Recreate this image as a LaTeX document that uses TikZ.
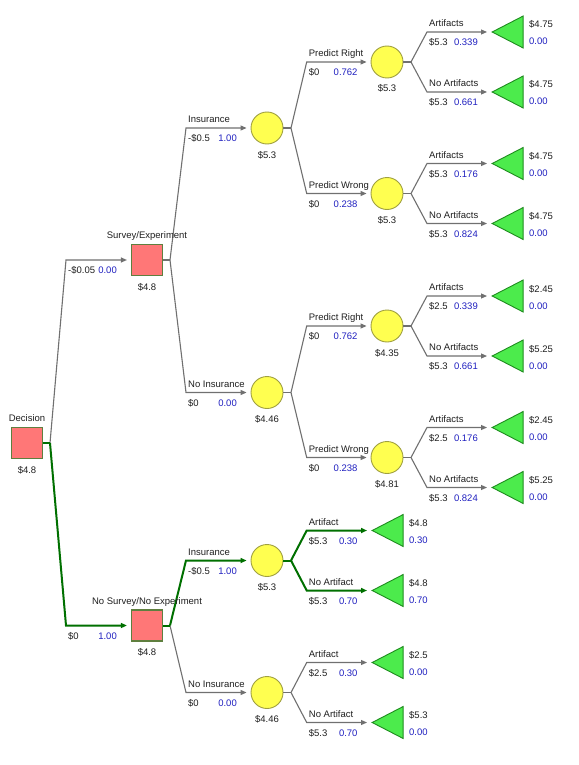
\documentclass[tikz,border=0pt]{standalone}
\usepackage{fontspec}
\setmainfont{Liberation Sans}
\usetikzlibrary{shapes.geometric,arrows.meta,calc}
\definecolor{sqfill}{HTML}{FF7777}
\definecolor{sqline}{HTML}{5F7F3F}
\definecolor{cfill}{HTML}{FFFF50}
\definecolor{cline}{HTML}{A0A040}
\definecolor{tfill}{HTML}{4CEB4C}
\definecolor{tline}{HTML}{1E8C1E}
\definecolor{gline}{HTML}{707070}
\definecolor{hgreen}{HTML}{007000}
\definecolor{pblue}{HTML}{2020C0}
\definecolor{txt}{HTML}{202020}
\tikzset{
 dec/.style={rectangle, draw=sqline, fill=sqfill, line width=1.2pt, minimum size=31pt, inner sep=0pt},
 chance/.style={circle, draw=cline, fill=cfill, line width=0.9pt, minimum size=32pt, inner sep=0pt},
 term/.style={isosceles triangle, shape border rotate=180, isosceles triangle stretches, minimum width=32pt, minimum height=31pt, inner sep=0pt, draw=tline, fill=tfill, line width=0.9pt, anchor=apex},
 br/.style={draw=gline, line width=1.1pt},
 stub/.style={draw=gline, line width=1.8pt},
 hb/.style={draw=hgreen, line width=2pt},
 arr/.style={-{Triangle[length=6pt,width=5pt]}, shorten >=4pt},
 lab/.style={font=\fontsize{9.5}{11}\selectfont, text=txt, inner sep=0pt},
}
\newcommand\BrLab[4]{%
 \node[lab,anchor=base west] (#1n) at ($(#1)+(2,-5.5)$) {#2};
 \node[lab,anchor=base west] (#1c) at ($(#1)+(2,13.5)$) {#3};
 \node[lab,text=pblue,anchor=base east] (#1p) at ($(#1)+(51,13.5)$) {#4};}
\newcommand\LeafT[3]{%
 \node[lab,anchor=base west] (#1v) at ($(#1.apex)+(38,-4)$) {#2};
 \node[lab,text=pblue,anchor=base west] (#1q) at ($(#1.apex)+(38,13)$) {#3};}
\newcommand\ValLab[2]{%
 \node[lab,anchor=base] (#1l) at ($(#1)+(0,30)$) {#2};}
\begin{document}
\begin{tikzpicture}[x=1pt,y=-1pt]
\fill[white] (0,0) rectangle (578,765);
\useasboundingbox (0,0) rectangle (578,765);

% ---------- stubs and corners ----------
\coordinate (ds) at (50,443);
\coordinate (ss) at (170,260);
\coordinate (ns) at (170,625.5);
\coordinate (s1) at (291,128);
\coordinate (s2) at (291,392.5);
\coordinate (s3) at (291,560.5);
\coordinate (s4) at (291,692.5);
\coordinate (s11) at (411,62);
\coordinate (s12) at (411,193.5);
\coordinate (s21) at (411,326);
\coordinate (s22) at (411,457.5);

\coordinate (kS) at (66,260);
\coordinate (kN) at (66,625.5);
\coordinate (kI1) at (186,128);
\coordinate (kN1) at (186,392.5);
\coordinate (kI2) at (186,560.5);
\coordinate (kN2) at (186,692.5);
\coordinate (kR1) at (306.7,62);
\coordinate (kW1) at (306.7,193.5);
\coordinate (kR2) at (306.7,326);
\coordinate (kW2) at (306.7,457.5);
\coordinate (k111) at (427,32);
\coordinate (k112) at (427,92);
\coordinate (k121) at (427,163.5);
\coordinate (k122) at (427,223.5);
\coordinate (k211) at (427,296);
\coordinate (k212) at (427,356);
\coordinate (k221) at (427,427.5);
\coordinate (k222) at (427,487.5);
\coordinate (k31) at (306.7,530.5);
\coordinate (k32) at (306.7,590.5);
\coordinate (k41) at (306.7,662.5);
\coordinate (k42) at (306.7,722.5);

% ---------- nodes ----------
\node[dec] (D) at (27,443) {};
\node[dec] (S) at (147,260) {};
\node[dec] (N) at (147,625.5) {};
\node[chance] (C1) at (267,128) {};
\node[chance] (C2) at (267,392.5) {};
\node[chance] (C3) at (267,560.5) {};
\node[chance] (C4) at (267,692.5) {};
\node[chance] (C11) at (387,62) {};
\node[chance] (C12) at (387,193.5) {};
\node[chance] (C21) at (387,326) {};
\node[chance] (C22) at (387,457.5) {};
\node[term] (T111) at (491,32) {};
\node[term] (T112) at (491,92) {};
\node[term] (T121) at (491,163.5) {};
\node[term] (T122) at (491,223.5) {};
\node[term] (T211) at (491,296) {};
\node[term] (T212) at (491,356) {};
\node[term] (T221) at (491,427.5) {};
\node[term] (T222) at (491,487.5) {};
\node[term] (T31) at (371,530.5) {};
\node[term] (T32) at (371,590.5) {};
\node[term] (T41) at (371,662.5) {};
\node[term] (T42) at (371,722.5) {};

% ---------- gray connectors ----------
\draw[br,arr] (ds) -- (kS) -- (S);
\draw[br,arr] (ss) -- (kI1) -- (C1);
\draw[br,arr] (ss) -- (kN1) -- (C2);
\draw[br,arr] (s1) -- (kR1) -- (C11);
\draw[br,arr] (s1) -- (kW1) -- (C12);
\draw[br,arr] (s2) -- (kR2) -- (C21);
\draw[br,arr] (s2) -- (kW2) -- (C22);
\draw[br,arr] (s11) -- (k111) -- (T111);
\draw[br,arr] (s11) -- (k112) -- (T112);
\draw[br,arr] (s12) -- (k121) -- (T121);
\draw[br,arr] (s12) -- (k122) -- (T122);
\draw[br,arr] (s21) -- (k211) -- (T211);
\draw[br,arr] (s21) -- (k212) -- (T212);
\draw[br,arr] (s22) -- (k221) -- (T221);
\draw[br,arr] (s22) -- (k222) -- (T222);
\draw[br,arr] (ns) -- (kN2) -- (C4);
\draw[br,arr] (s4) -- (k41) -- (T41);
\draw[br,arr] (s4) -- (k42) -- (T42);
\draw[stub] (S.east) -- (ss);
\draw[stub] (C1.east) -- (s1);
\draw[stub] (C2.east) -- (s2);
\draw[stub] (C11.east) -- (s11);
\draw[stub] (C12.east) -- (s12);
\draw[stub] (C21.east) -- (s21);
\draw[stub] (C22.east) -- (s22);
\draw[stub] (C4.east) -- (s4);

% ---------- green (optimal) connectors ----------
\draw[hb] (D.east) -- (ds);
\draw[hb,arr] (ds) -- (kN) -- (N);
\draw[hb] (N.east) -- (ns);
\draw[hb,arr] (ns) -- (kI2) -- (C3);
\draw[hb] (C3.east) -- (s3);
\draw[hb,arr] (s3) -- (k31) -- (T31);
\draw[hb,arr] (s3) -- (k32) -- (T32);

% ---------- node labels ----------
\node[lab,anchor=base] (Dn) at ($(D)+(0,-21.5)$) {Decision};
\ValLab{D}{\$4.8}
\node[lab,anchor=base] (Sn) at ($(S)+(0,-21.5)$) {Survey/Experiment};
\ValLab{S}{\$4.8}
\node[lab,anchor=base] (Nn) at ($(N)+(0,-21.5)$) {No Survey/No Experiment};
\ValLab{N}{\$4.8}
\ValLab{C1}{\$5.3}
\ValLab{C2}{\$4.46}
\ValLab{C3}{\$5.3}
\ValLab{C4}{\$4.46}
\ValLab{C11}{\$5.3}
\ValLab{C12}{\$5.3}
\ValLab{C21}{\$4.35}
\ValLab{C22}{\$4.81}

% ---------- branch labels ----------
\BrLab{kS}{}{-\$0.05}{0.00}
\BrLab{kN}{}{\$0}{1.00}
\BrLab{kI1}{Insurance}{-\$0.5}{1.00}
\BrLab{kN1}{No Insurance}{\$0}{0.00}
\BrLab{kI2}{Insurance}{-\$0.5}{1.00}
\BrLab{kN2}{No Insurance}{\$0}{0.00}
\BrLab{kR1}{Predict Right}{\$0}{0.762}
\BrLab{kW1}{Predict Wrong}{\$0}{0.238}
\BrLab{kR2}{Predict Right}{\$0}{0.762}
\BrLab{kW2}{Predict Wrong}{\$0}{0.238}
\BrLab{k111}{Artifacts}{\$5.3}{0.339}
\BrLab{k112}{No Artifacts}{\$5.3}{0.661}
\BrLab{k121}{Artifacts}{\$5.3}{0.176}
\BrLab{k122}{No Artifacts}{\$5.3}{0.824}
\BrLab{k211}{Artifacts}{\$2.5}{0.339}
\BrLab{k212}{No Artifacts}{\$5.3}{0.661}
\BrLab{k221}{Artifacts}{\$2.5}{0.176}
\BrLab{k222}{No Artifacts}{\$5.3}{0.824}
\BrLab{k31}{Artifact}{\$5.3}{0.30}
\BrLab{k32}{No Artifact}{\$5.3}{0.70}
\BrLab{k41}{Artifact}{\$2.5}{0.30}
\BrLab{k42}{No Artifact}{\$5.3}{0.70}

% ---------- terminal labels ----------
\LeafT{T111}{\$4.75}{0.00}
\LeafT{T112}{\$4.75}{0.00}
\LeafT{T121}{\$4.75}{0.00}
\LeafT{T122}{\$4.75}{0.00}
\LeafT{T211}{\$2.45}{0.00}
\LeafT{T212}{\$5.25}{0.00}
\LeafT{T221}{\$2.45}{0.00}
\LeafT{T222}{\$5.25}{0.00}
\LeafT{T31}{\$4.8}{0.30}
\LeafT{T32}{\$4.8}{0.70}
\LeafT{T41}{\$2.5}{0.00}
\LeafT{T42}{\$5.3}{0.00}
\end{tikzpicture}
\end{document}
